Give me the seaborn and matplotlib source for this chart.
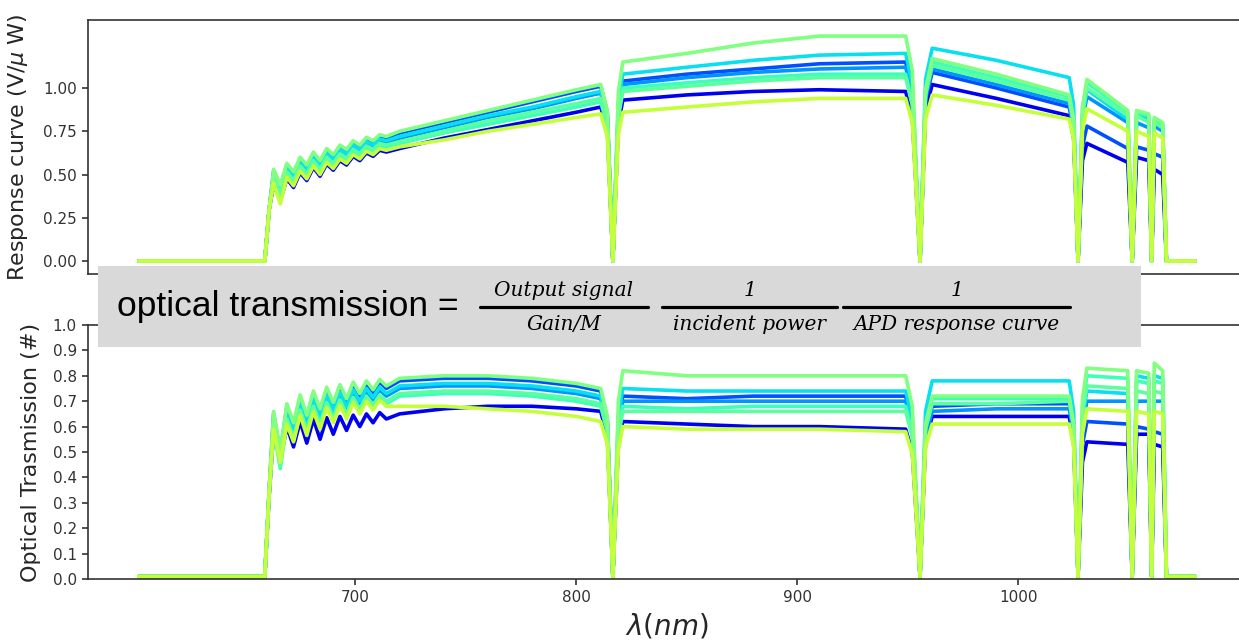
import numpy as np
import pandas as pd
import matplotlib
matplotlib.use("Agg")
import matplotlib.pyplot as plt
from matplotlib.patches import Rectangle
from matplotlib.lines import Line2D
import seaborn as sns

# ---------------- data ----------------
wavelength = [602, 659, 661,
              663, 666, 669, 672, 675, 678, 681, 684, 687, 690, 693, 696, 699, 702, 705, 708, 711, 714,
              720, 740, 760, 780, 800, 811,
              814, 816.5, 819,
              821, 850, 880, 910, 949,
              952, 955.5, 958,
              961, 990, 1023,
              1025, 1027, 1029,
              1031, 1049.5,
              1051.5,
              1053.5, 1059,
              1060.3,
              1061.5, 1065.3,
              1067, 1080]

curves = ["A", "B", "C", "D", "E", "F", "G", "H"]
curve_colors = ["#0000f0", "#0050ff", "#0094ff", "#08e0ef", "#3dffba", "#5cffa0", "#80ff80", "#c4ff3a"]

# Response curve (V/uW)
resp_A = [0, 0, 0.30,
          0.44, 0.35, 0.475, 0.425, 0.51, 0.465, 0.54, 0.49, 0.56, 0.525, 0.58, 0.555, 0.605, 0.58, 0.625, 0.605, 0.64, 0.63,
          0.65, 0.71, 0.76, 0.81, 0.86, 0.89,
          0.76, 0, 0.79,
          0.93, 0.96, 0.98, 0.99, 0.98,
          0.83, 0, 0.87,
          1.02, 0.94, 0.84,
          0.71, 0, 0.58,
          0.68, 0.57,
          0,
          0.60, 0.58,
          0,
          0.53, 0.50,
          0, 0]
resp_B = [0, 0, 0.30,
          0.52, 0.43, 0.555, 0.505, 0.59, 0.545, 0.62, 0.57, 0.64, 0.605, 0.66, 0.635, 0.685, 0.66, 0.705, 0.685, 0.72, 0.71,
          0.74, 0.80, 0.86, 0.92, 0.98, 1.01,
          0.86, 0, 0.88,
          1.04, 1.08, 1.11, 1.14, 1.15,
          0.98, 0, 0.93,
          1.09, 1.00, 0.89,
          0.76, 0, 0.66,
          0.78, 0.65,
          0,
          0.66, 0.64,
          0,
          0.62, 0.60,
          0, 0]
resp_C = [0, 0, 0.30,
          0.495, 0.405, 0.53, 0.48, 0.565, 0.52, 0.595, 0.545, 0.615, 0.58, 0.635, 0.61, 0.66, 0.635, 0.68, 0.66, 0.695, 0.685,
          0.71, 0.77, 0.83, 0.88, 0.94, 0.97,
          0.82, 0, 0.87,
          1.02, 1.06, 1.09, 1.11, 1.12,
          0.95, 0, 0.94,
          1.11, 1.02, 0.91,
          0.77, 0, 0.81,
          0.95, 0.80,
          0,
          0.80, 0.77,
          0,
          0.78, 0.75,
          0, 0]
resp_D = [0, 0, 0.30,
          0.505, 0.415, 0.54, 0.49, 0.575, 0.53, 0.605, 0.555, 0.625, 0.59, 0.645, 0.62, 0.67, 0.645, 0.69, 0.67, 0.705, 0.695,
          0.72, 0.78, 0.84, 0.89, 0.95, 0.98,
          0.83, 0, 0.92,
          1.08, 1.12, 1.16, 1.19, 1.20,
          1.02, 0, 1.05,
          1.23, 1.16, 1.06,
          0.90, 0, 0.84,
          0.99, 0.82,
          0,
          0.85, 0.82,
          0,
          0.81, 0.78,
          0, 0]
resp_E = [0, 0, 0.30,
          0.47, 0.38, 0.505, 0.455, 0.54, 0.495, 0.57, 0.52, 0.59, 0.555, 0.61, 0.585, 0.635, 0.61, 0.655, 0.635, 0.67, 0.66,
          0.68, 0.74, 0.79, 0.84, 0.89, 0.92,
          0.78, 0, 0.85,
          1.00, 1.03, 1.06, 1.08, 1.08,
          0.92, 0, 0.98,
          1.15, 1.06, 0.95,
          0.81, 0, 0.88,
          1.03, 0.86,
          0,
          0.86, 0.84,
          0,
          0.82, 0.79,
          0, 0]
resp_F = [0, 0, 0.30,
          0.48, 0.39, 0.515, 0.465, 0.55, 0.505, 0.58, 0.53, 0.60, 0.565, 0.62, 0.595, 0.645, 0.62, 0.665, 0.645, 0.68, 0.67,
          0.69, 0.75, 0.81, 0.86, 0.91, 0.94,
          0.80, 0, 0.83,
          0.98, 1.01, 1.04, 1.06, 1.06,
          0.90, 0, 0.96,
          1.13, 1.04, 0.93,
          0.79, 0, 0.85,
          1.00, 0.84,
          0,
          0.84, 0.80,
          0,
          0.80, 0.77,
          0, 0]
resp_G = [0, 0, 0.30,
          0.53, 0.44, 0.565, 0.515, 0.60, 0.555, 0.63, 0.58, 0.65, 0.615, 0.67, 0.645, 0.695, 0.67, 0.715, 0.695, 0.73, 0.72,
          0.75, 0.81, 0.87, 0.93, 0.99, 1.02,
          0.87, 0, 0.98,
          1.15, 1.20, 1.26, 1.30, 1.30,
          1.10, 0, 0.99,
          1.17, 1.08, 0.96,
          0.82, 0, 0.89,
          1.05, 0.87,
          0,
          0.87, 0.85,
          0,
          0.83, 0.80,
          0, 0]
resp_H = [0, 0, 0.30,
          0.45, 0.33, 0.485, 0.435, 0.52, 0.475, 0.55, 0.50, 0.57, 0.535, 0.59, 0.565, 0.615, 0.59, 0.635, 0.615, 0.65, 0.64,
          0.66, 0.70, 0.75, 0.79, 0.83, 0.85,
          0.72, 0, 0.73,
          0.86, 0.89, 0.92, 0.94, 0.94,
          0.80, 0, 0.82,
          0.96, 0.90, 0.82,
          0.70, 0, 0.75,
          0.88, 0.75,
          0,
          0.75, 0.72,
          0,
          0.74, 0.71,
          0, 0]

# Optical transmission (#)
trans_A = [0.01, 0.01, 0.33,
           0.58, 0.47, 0.60, 0.52, 0.62, 0.535, 0.63, 0.55, 0.635, 0.57, 0.64, 0.585, 0.645, 0.60, 0.65, 0.615, 0.655, 0.63,
           0.65, 0.67, 0.68, 0.68, 0.67, 0.66,
           0.56, 0.01, 0.53,
           0.62, 0.61, 0.60, 0.60, 0.59,
           0.50, 0.01, 0.54,
           0.64, 0.64, 0.64,
           0.54, 0.01, 0.46,
           0.54, 0.53,
           0.01,
           0.57, 0.57,
           0.01,
           0.53, 0.52,
           0.01, 0.01]
trans_B = [0.01, 0.01, 0.35,
           0.65, 0.495, 0.68, 0.605, 0.715, 0.635, 0.73, 0.66, 0.745, 0.685, 0.755, 0.70, 0.765, 0.72, 0.77, 0.735, 0.775, 0.75,
           0.78, 0.79, 0.79, 0.78, 0.76, 0.74,
           0.63, 0.01, 0.61,
           0.72, 0.71, 0.72, 0.72, 0.72,
           0.61, 0.01, 0.58,
           0.68, 0.69, 0.69,
           0.59, 0.01, 0.53,
           0.62, 0.61,
           0.01,
           0.60, 0.59,
           0.01,
           0.58, 0.57,
           0.01, 0.01]
trans_C = [0.01, 0.01, 0.35,
           0.62, 0.465, 0.65, 0.575, 0.685, 0.605, 0.70, 0.63, 0.715, 0.655, 0.725, 0.67, 0.735, 0.69, 0.74, 0.705, 0.745, 0.72,
           0.75, 0.76, 0.76, 0.75, 0.73, 0.71,
           0.60, 0.01, 0.60,
           0.70, 0.70, 0.70, 0.70, 0.70,
           0.60, 0.01, 0.56,
           0.66, 0.67, 0.67,
           0.57, 0.01, 0.60,
           0.70, 0.70,
           0.01,
           0.70, 0.70,
           0.01,
           0.70, 0.70,
           0.01, 0.01]
trans_D = [0.01, 0.01, 0.35,
           0.63, 0.475, 0.66, 0.585, 0.695, 0.615, 0.71, 0.64, 0.725, 0.665, 0.735, 0.68, 0.745, 0.70, 0.75, 0.715, 0.755, 0.73,
           0.76, 0.77, 0.77, 0.76, 0.74, 0.72,
           0.61, 0.01, 0.64,
           0.75, 0.74, 0.74, 0.74, 0.74,
           0.63, 0.01, 0.66,
           0.78, 0.78, 0.78,
           0.66, 0.01, 0.63,
           0.74, 0.73,
           0.01,
           0.80, 0.79,
           0.01,
           0.80, 0.79,
           0.01, 0.01]
trans_E = [0.01, 0.01, 0.34,
           0.59, 0.435, 0.62, 0.545, 0.655, 0.575, 0.67, 0.60, 0.685, 0.625, 0.695, 0.64, 0.705, 0.66, 0.71, 0.675, 0.715, 0.69,
           0.72, 0.73, 0.73, 0.72, 0.70, 0.68,
           0.58, 0.01, 0.58,
           0.68, 0.67, 0.68, 0.68, 0.68,
           0.58, 0.01, 0.60,
           0.71, 0.71, 0.71,
           0.60, 0.01, 0.68,
           0.80, 0.79,
           0.01,
           0.78, 0.77,
           0.01,
           0.78, 0.77,
           0.01, 0.01]
trans_F = [0.01, 0.01, 0.34,
           0.60, 0.445, 0.63, 0.555, 0.665, 0.585, 0.68, 0.61, 0.695, 0.635, 0.705, 0.65, 0.715, 0.67, 0.72, 0.685, 0.725, 0.70,
           0.73, 0.74, 0.74, 0.73, 0.71, 0.69,
           0.59, 0.01, 0.56,
           0.66, 0.66, 0.66, 0.66, 0.66,
           0.56, 0.01, 0.59,
           0.69, 0.69, 0.70,
           0.60, 0.01, 0.65,
           0.76, 0.75,
           0.01,
           0.74, 0.73,
           0.01,
           0.74, 0.73,
           0.01, 0.01]
trans_G = [0.01, 0.01, 0.36,
           0.66, 0.505, 0.69, 0.615, 0.725, 0.645, 0.74, 0.67, 0.755, 0.695, 0.765, 0.71, 0.775, 0.73, 0.78, 0.745, 0.785, 0.76,
           0.79, 0.80, 0.80, 0.79, 0.77, 0.75,
           0.64, 0.01, 0.70,
           0.82, 0.80, 0.80, 0.80, 0.80,
           0.68, 0.01, 0.61,
           0.72, 0.72, 0.72,
           0.61, 0.01, 0.71,
           0.83, 0.82,
           0.01,
           0.82, 0.81,
           0.01,
           0.85, 0.82,
           0.01, 0.01]
trans_H = [0.01, 0.01, 0.34,
           0.59, 0.46, 0.61, 0.54, 0.645, 0.565, 0.66, 0.59, 0.675, 0.615, 0.685, 0.63, 0.695, 0.65, 0.70, 0.665, 0.705, 0.68,
           0.68, 0.68, 0.67, 0.66, 0.64, 0.62,
           0.53, 0.01, 0.51,
           0.60, 0.59, 0.59, 0.59, 0.58,
           0.49, 0.01, 0.52,
           0.61, 0.61, 0.61,
           0.52, 0.01, 0.57,
           0.67, 0.66,
           0.01,
           0.66, 0.65,
           0.01,
           0.66, 0.65,
           0.01, 0.01]

resp_series = [resp_A, resp_B, resp_C, resp_D, resp_E, resp_F, resp_G, resp_H]
trans_series = [trans_A, trans_B, trans_C, trans_D, trans_E, trans_F, trans_G, trans_H]

xticks = [700, 800, 900, 1000]
top_yticks = [0.00, 0.25, 0.50, 0.75, 1.00]
bottom_yticks = [0.0, 0.1, 0.2, 0.3, 0.4, 0.5, 0.6, 0.7, 0.8, 0.9, 1.0]

# long-form frame
rows = []
for name, r, t in zip(curves, resp_series, trans_series):
    for w, rv, tv in zip(wavelength, r, t):
        rows.append({"wl": w, "resp": rv, "trans": tv, "curve": name})
df = pd.DataFrame(rows)

# ---------------- style ----------------
sns.set_theme(style="ticks")
plt.rcParams["font.family"] = ["DejaVu Sans"]
plt.rcParams["axes.edgecolor"] = "#333333"
plt.rcParams["axes.linewidth"] = 1.2
plt.rcParams["xtick.color"] = "#333333"
plt.rcParams["ytick.color"] = "#333333"
plt.rcParams["xtick.major.width"] = 1.2
plt.rcParams["ytick.major.width"] = 1.2
plt.rcParams["xtick.major.size"] = 4.5
plt.rcParams["ytick.major.size"] = 4.5
plt.rcParams["xtick.labelsize"] = 11
plt.rcParams["ytick.labelsize"] = 11
plt.rcParams["mathtext.fontset"] = "dejavusans"

W, H = 1239, 641
fig = plt.figure(figsize=(W / 100, H / 100), dpi=100)
fig.patch.set_facecolor("white")

left_px, right_px = 88, 1246
ax_top = fig.add_axes([left_px / W, 1 - 274 / H, (right_px - left_px) / W, 254 / H])
ax_bot = fig.add_axes([left_px / W, 1 - 579 / H, (right_px - left_px) / W, 254 / H])

for ax, col in [(ax_top, "resp"), (ax_bot, "trans")]:
    sns.lineplot(data=df, x="wl", y=col, hue="curve", hue_order=curves,
                 palette=curve_colors, estimator=None, sort=False,
                 linewidth=2.6, legend=False, ax=ax)
    ax.set_xlim(579, 1103)
    ax.set_xticks(xticks)
    ax.tick_params(axis="both", which="major", labelcolor="#333333")

ax_top.set_ylim(-0.075, 1.393)
ax_top.set_yticks(top_yticks)
ax_top.set_yticklabels([f"{v:.2f}" for v in top_yticks])
ax_top.tick_params(axis="x", labelbottom=False)
ax_top.set_xlabel("")
ax_top.set_ylabel("Response curve (V/$\\mu$ W)", fontsize=16, color="#262626")
ax_top.yaxis.set_label_coords(-0.050, 0.5)

ax_bot.set_ylim(0.0, 1.0)
ax_bot.set_yticks(bottom_yticks)
ax_bot.set_yticklabels([f"{v:.1f}" for v in bottom_yticks])
ax_bot.set_ylabel("Optical Trasmission (#)", fontsize=16, color="#262626")
ax_bot.yaxis.set_label_coords(-0.041, 0.5)
ax_bot.set_xlabel(r"$\lambda(nm)$", fontsize=20, color="#262626")
ax_bot.xaxis.set_label_coords(0.5, -0.128)

# ---------------- formula box ----------------
def fx(px):
    return px / W

def fy(py):
    return 1 - py / H

box = Rectangle((fx(98), fy(347)), fx(1141) - fx(98), (347 - 266) / H,
                transform=fig.transFigure, facecolor="#d9d9d9", edgecolor="none", zorder=10)
fig.add_artist(box)

fig.text(fx(117), fy(316), "optical transmission =", fontsize=25.5,
         family=["Liberation Sans", "DejaVu Sans"], color="black",
         ha="left", va="baseline", zorder=11)

serif = ["DejaVu Serif"]
fractions = [
    ("Output signal", "Gain/M", 480, 648),
    ("1", "incident power", 662, 837),
    ("1", "APD response curve", 843, 1070),
]
for num, den, x1, x2 in fractions:
    xc = (x1 + x2) / 2
    fig.add_artist(Line2D([fx(x1), fx(x2)], [fy(307), fy(307)], transform=fig.transFigure,
                          color="black", linewidth=2.3, zorder=11))
    fig.text(fx(xc), fy(291), num, fontsize=14.5, style="italic", family=serif,
             ha="center", va="center", color="black", zorder=11)
    fig.text(fx(xc), fy(325), den, fontsize=14.5, style="italic", family=serif,
             ha="center", va="center", color="black", zorder=11)

fig.savefig("out.png", dpi=100)
